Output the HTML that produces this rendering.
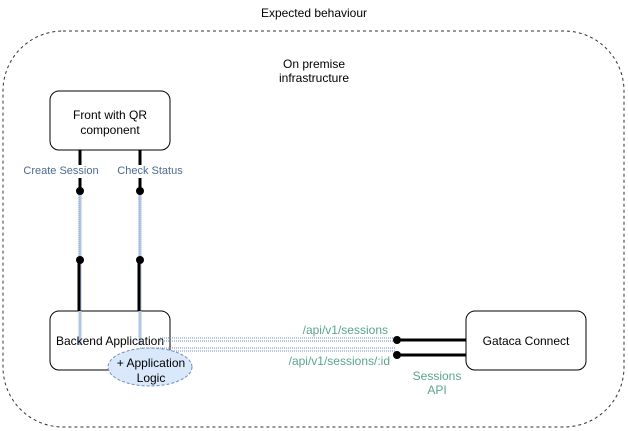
<!DOCTYPE html>
<html><head><meta charset="utf-8"><style>
html,body{margin:0;padding:0;background:#fff;}
svg{display:block;font-family:"Liberation Sans",Arial,sans-serif;}
</style></head><body>
<svg width="628" height="431" viewBox="0 0 628 431" xmlns="http://www.w3.org/2000/svg">
<text x="314" y="17" font-size="12" text-anchor="middle" fill="#000">Expected behaviour</text>
<rect x="3" y="31" width="621" height="396" rx="60" fill="none" stroke="#333" stroke-dasharray="3,3"/>
<text x="314" y="68" font-size="12" text-anchor="middle">On premise</text>
<text x="314" y="82" font-size="12" text-anchor="middle">infrastructure</text>

<rect x="50" y="91" width="120" height="59" rx="9" fill="#fff" stroke="#000"/>
<text x="110" y="119" font-size="12" text-anchor="middle">Front with QR</text>
<text x="110" y="134" font-size="12" text-anchor="middle">component</text>

<!-- vertical connectors -->
<g>
<line x1="80" y1="150" x2="80" y2="165" stroke="#000" stroke-width="3"/>
<line x1="80" y1="178" x2="80" y2="191" stroke="#000" stroke-width="3"/>
<line x1="140" y1="150" x2="140" y2="165" stroke="#000" stroke-width="3"/>
<line x1="140" y1="178" x2="140" y2="191" stroke="#000" stroke-width="3"/>
<line x1="80" y1="191" x2="80" y2="345" stroke="#b3c6e0" stroke-width="3"/>
<line x1="140" y1="191" x2="140" y2="345" stroke="#b3c6e0" stroke-width="3"/>
<line x1="79" y1="191" x2="79" y2="260" stroke="#6c8ebf" stroke-width="0.6" stroke-dasharray="1,1"/>
<line x1="139" y1="191" x2="139" y2="260" stroke="#6c8ebf" stroke-width="0.6" stroke-dasharray="1,1"/>
<line x1="79" y1="260" x2="79" y2="311" stroke="#000" stroke-width="3"/>
<line x1="139" y1="260" x2="139" y2="311" stroke="#000" stroke-width="3"/>
<circle cx="80" cy="191" r="4"/><circle cx="140" cy="191" r="4"/>
<circle cx="80" cy="260" r="4"/><circle cx="140" cy="260" r="4"/>
</g>
<text x="61" y="174" font-size="11" text-anchor="middle" fill="#4d6a8f">Create Session</text>
<text x="150" y="174" font-size="11" text-anchor="middle" fill="#4d6a8f">Check Status</text>

<rect x="50" y="311" width="120" height="59" rx="9" fill="#fff" stroke="#000"/>
<line x1="80" y1="311" x2="80" y2="345" stroke="#b3c6e0" stroke-width="3"/>
<line x1="140" y1="311" x2="140" y2="345" stroke="#b3c6e0" stroke-width="3"/>
<text x="110" y="345" font-size="12" text-anchor="middle">Backend Application</text>

<!-- horizontal dotted -->
<g stroke="#6c8ebf" stroke-width="1" stroke-dasharray="1,1">
<line x1="160" y1="338" x2="396" y2="338"/>
<line x1="160" y1="341" x2="396" y2="341"/>
<line x1="140" y1="348" x2="396" y2="348"/>
<line x1="140" y1="351" x2="396" y2="351"/>
</g>
<line x1="397" y1="340" x2="466" y2="340" stroke="#000" stroke-width="3"/>
<line x1="397" y1="355" x2="466" y2="355" stroke="#000" stroke-width="3"/>
<circle cx="397" cy="340" r="4"/><circle cx="397" cy="355" r="4"/>
<text x="388" y="334" font-size="12" text-anchor="end" fill="#5aa58a">/api/v1/sessions</text>
<text x="390" y="365" font-size="12" text-anchor="end" fill="#5aa58a">/api/v1/sessions/:id</text>
<text x="437" y="380" font-size="12" text-anchor="middle" fill="#5aa58a">Sessions</text>
<text x="437" y="394" font-size="12" text-anchor="middle" fill="#5aa58a">API</text>

<ellipse cx="150" cy="367" rx="42" ry="19" fill="#dae8fc" stroke="#6c8ebf" stroke-dasharray="3,2"/>
<text x="151" y="367" font-size="12" text-anchor="middle">+ Application</text>
<text x="151" y="382" font-size="12" text-anchor="middle">Logic</text>

<rect x="466" y="311" width="120" height="59" rx="9" fill="#fff" stroke="#000"/>
<text x="526" y="345" font-size="12" text-anchor="middle">Gataca Connect</text>
</svg>
</body></html>
